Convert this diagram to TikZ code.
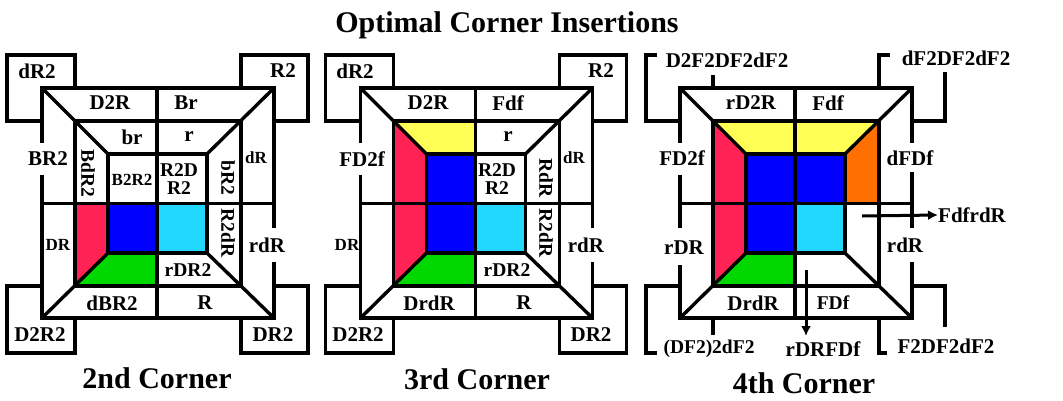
\documentclass[tikz,border=0pt]{standalone}
\usepackage{fontspec}
\setmainfont{Liberation Serif}[BoldFont={Liberation Serif Bold}]
\definecolor{cRed}{HTML}{FF2255}
\definecolor{cBlue}{HTML}{0000FF}
\definecolor{cCyan}{HTML}{22D8FF}
\definecolor{cGreen}{HTML}{00D800}
\definecolor{cYellow}{HTML}{FFFF55}
\definecolor{cOrange}{HTML}{FF7000}
\tikzset{
  wire/.style={line width=3.4pt,line join=miter,line cap=butt},
  lab/.style={font=\fontsize{21}{21}\selectfont\bfseries,inner sep=0pt},
  labm/.style={font=\fontsize{19.5}{20}\selectfont\bfseries,inner sep=0pt,align=center},
  labs/.style={font=\fontsize{17}{17}\selectfont\bfseries,inner sep=0pt},
  head/.style={font=\fontsize{30}{30}\selectfont\bfseries,inner sep=0pt},
  pointer/.style={line width=3pt,-{Latex[length=10pt,width=10pt]}},
}
\usetikzlibrary{arrows.meta}
% Faces shared by every panel: lower red, blue, cyan and green stickers
\newcommand{\lowerfaces}{%
  \fill[cRed] (75,203) -- (108,203) -- (108,253) -- (75,286) -- cycle;
  \fill[cBlue] (108,203) rectangle (157,253);
  \fill[cCyan] (157,203) rectangle (207,253);
  \fill[cGreen] (108,253) -- (157,253) -- (157,286) -- (75,286) -- cycle;
}
% Left half of the top layer filled in
\newcommand{\upperleftfaces}{%
  \fill[cRed] (75,121) -- (108,154) -- (108,203) -- (75,203) -- cycle;
  \fill[cYellow] (75,121) -- (157,121) -- (157,154) -- (108,154) -- cycle;
  \fill[cBlue] (108,154) rectangle (157,203);
}
% Grid lines: inner squares, diagonals and centre cross
\newcommand{\cubegrid}{%
  \draw[wire] (75,121) rectangle (241,286);
  \draw[wire] (108,154) rectangle (207,253);
  \draw[wire] (42,88) -- (274,88);
  \draw[wire] (42,318) -- (274,318);
  \draw[wire] (42,88) -- (108,154);
  \draw[wire] (274,88) -- (207,154);
  \draw[wire] (42,318) -- (108,253);
  \draw[wire] (274,318) -- (207,253);
  \draw[wire] (157,88) -- (157,318);
  \draw[wire] (42,203.5) -- (274,203.5);
}
% Closed boxes at the four corners
\newcommand{\cornerboxes}{%
  \draw[wire] (42,121) -- (7,121) -- (7,55) -- (75,55) -- (75,88);
  \draw[wire] (274,121) -- (308,121) -- (308,55) -- (241,55) -- (241,88);
  \draw[wire] (42,286) -- (7,286) -- (7,353) -- (75,353) -- (75,318);
  \draw[wire] (274,286) -- (308,286) -- (308,353) -- (241,353) -- (241,318);
}
\begin{document}
\begin{tikzpicture}[x=1pt,y=-1pt]
\useasboundingbox (0,0) rectangle (1063,400);
\fill[white] (0,0) rectangle (1063,400);
\node[head] (title) at (507,25) {Optimal Corner Insertions};

% Second corner panel
\begin{scope}
  \lowerfaces
  \cubegrid
  \cornerboxes
  \draw[wire] (42,86.3) -- (42,143) (42,175) -- (42,319.7);
  \draw[wire] (274,86.3) -- (274,228) (274,262) -- (274,319.7);
  \node[lab] (a1) at (37,71) {dR2};
  \node[lab] (a2) at (283,71) {R2};
  \node[lab] (a3) at (110,103) {D2R};
  \node[lab] (a4) at (186,103) {Br};
  \node[lab] (a5) at (132,137) {br};
  \node[lab] (a6) at (189,137) {r};
  \node[lab] (a7) at (48,159) {BR2};
  \node[labm,rotate=-90] (a8) at (88,173) {BdR2};
  \node[labs] (a9) at (132,180) {B2R2};
  \node[labm] (a10) at (179,179) {R2D\\[-2pt]R2};
  \node[labm,rotate=-90] (a11) at (228,178) {bR2};
  \node[labs] (a12) at (256,158) {dR};
  \node[labm,rotate=-90] (a13) at (228,233) {R2dR};
  \node[lab] (a14) at (267,245) {rdR};
  \node[labs] (a15) at (58,245) {DR};
  \node[labm] (a16) at (188,270) {rDR2};
  \node[lab] (a17) at (112,303) {dBR2};
  \node[lab] (a18) at (205,303) {R};
  \node[lab] (a19) at (40,335) {D2R2};
  \node[lab] (a20) at (273,335) {DR2};
  \node[head] (a21) at (157,378) {2nd Corner};
\end{scope}

% Third corner panel
\begin{scope}[shift={(318.5,0)}]
  \lowerfaces
  \upperleftfaces
  \cubegrid
  \cornerboxes
  \draw[wire] (42,86.3) -- (42,143) (42,175) -- (42,319.7);
  \draw[wire] (274,86.3) -- (274,228) (274,262) -- (274,319.7);
  \node[lab] (b1) at (36.5,71) {dR2};
  \node[lab] (b2) at (282.5,71) {R2};
  \node[lab] (b3) at (109.5,103) {D2R};
  \node[lab] (b4) at (189.5,103) {Fdf};
  \node[lab] (b5) at (189.5,137) {r};
  \node[lab] (b6) at (43.5,159) {FD2f};
  \node[labm] (b7) at (178.5,179) {R2D\\[-2pt]R2};
  \node[labm,rotate=-90] (b8) at (227.5,178) {RdR};
  \node[labs] (b9) at (255.5,158) {dR};
  \node[labm,rotate=-90] (b10) at (227.5,233) {R2dR};
  \node[lab] (b11) at (267.5,245) {rdR};
  \node[labs] (b12) at (28.5,245) {DR};
  \node[labm] (b13) at (188.5,270) {rDR2};
  \node[lab] (b14) at (110.5,303) {DrdR};
  \node[lab] (b15) at (205.5,303) {R};
  \node[lab] (b16) at (39.5,335) {D2R2};
  \node[lab] (b17) at (272.5,335) {DR2};
  \node[head] (b18) at (158.5,379) {3rd Corner};
\end{scope}

% Fourth corner panel
\begin{scope}[shift={(638,0)}]
  \lowerfaces
  \upperleftfaces
  \fill[cYellow] (157,121) -- (241,121) -- (207,154) -- (157,154) -- cycle;
  \fill[cBlue] (157,154) rectangle (207,203);
  \fill[cOrange] (241,121) -- (241,203) -- (207,203) -- (207,154) -- cycle;
  \cubegrid
  \draw[wire] (42,86.3) -- (42,143) (42,175) -- (42,228) (42,265) -- (42,319.7);
  \draw[wire] (274,86.3) -- (274,143) (274,172) -- (274,228) (274,262) -- (274,319.7);
  % Leader lines running out to the long algorithm labels
  \draw[wire] (42,121) -- (8,121) -- (8,55) -- (19,55);
  \draw[wire] (42,286) -- (8,286) -- (8,353) -- (19,353);
  \draw[wire] (75,88) -- (75,75);
  \draw[wire] (75,318) -- (75,335);
  \draw[wire] (241,88) -- (241,55) -- (252,55);
  \draw[wire] (274,121) -- (307,121) -- (307,72);
  \draw[wire] (274,286) -- (307,286) -- (307,327);
  \draw[wire] (241,318) -- (241,353) -- (249,353);
  \node[lab] (c1) at (89,60) {D2F2DF2dF2};
  \node[lab] (c2) at (318,58) {dF2DF2dF2};
  \node[lab] (c3) at (113,103) {rD2R};
  \node[lab] (c4) at (190,103) {Fdf};
  \node[lab] (c5) at (44,158) {FD2f};
  \node[lab] (c6) at (272,158) {dFDf};
  \node[lab] (c7) at (334,215) {FdfrdR};
  \node[lab] (c8) at (46,248) {rDR};
  \node[lab] (c9) at (267,245) {rdR};
  \node[lab] (c10) at (115,303) {DrdR};
  \node[labm] (c11) at (195,303) {FDf};
  \node[labm] (c12) at (71,349) {(DF2)2dF2};
  \node[lab] (c13) at (185,349) {rDRFDf};
  \node[lab] (c14) at (308,346) {F2DF2dF2};
  \node[head] (c15) at (166,383) {4th Corner};
  \coordinate (t1) at (224,216);
  \draw[pointer] (t1) -- (c7.west);
  \coordinate (t2) at (168,270);
  \draw[pointer] (t2) -- (168,336);
\end{scope}
\end{tikzpicture}
\end{document}
